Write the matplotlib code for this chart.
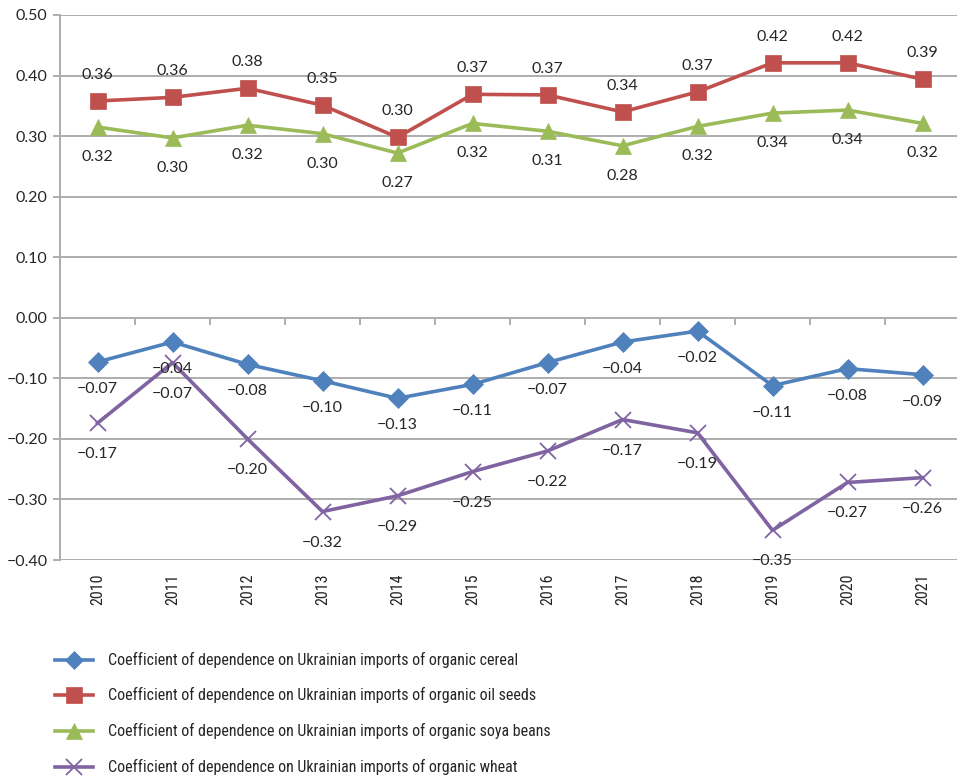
import matplotlib
matplotlib.use("Agg")
import matplotlib.pyplot as plt
from matplotlib import font_manager as fm
from matplotlib.lines import Line2D

plt.rcParams['font.family'] = ['Lato', 'DejaVu Sans']

years = ['2010', '2011', '2012', '2013', '2014', '2015',
         '2016', '2017', '2018', '2019', '2020', '2021']

cereal = [-0.073, -0.040, -0.077, -0.104, -0.133, -0.110,
          -0.074, -0.040, -0.022, -0.112, -0.084, -0.094]
oil_seeds = [0.358, 0.364, 0.379, 0.351, 0.298, 0.369,
             0.368, 0.340, 0.373, 0.421, 0.421, 0.394]
soya_beans = [0.315, 0.297, 0.318, 0.304, 0.272, 0.321,
              0.308, 0.284, 0.316, 0.338, 0.343, 0.321]
wheat = [-0.174, -0.074, -0.200, -0.320, -0.294, -0.254,
         -0.220, -0.168, -0.190, -0.351, -0.272, -0.264]

series_names = [
    'Coefficient of dependence on Ukrainian imports of organic cereal',
    'Coefficient of dependence on Ukrainian imports of organic oil seeds',
    'Coefficient of dependence on Ukrainian imports of organic soya beans',
    'Coefficient of dependence on Ukrainian imports of organic wheat',
]


def condensed_font():
    """Return a regular-weight condensed sans face if one is installed."""
    prefs = ['Roboto Condensed', 'Open Sans Condensed', 'Noto Sans Condensed',
             'Liberation Sans Narrow', 'Arial Narrow', 'Noto Sans',
             'Open Sans', 'Roboto', 'DejaVu Sans']
    for name in prefs:
        for f in fm.fontManager.ttflist:
            if f.name != name or f.style != 'normal':
                continue
            if f.weight not in (400, 'normal', 'regular'):
                continue
            fn = f.fname.lower()
            if 'mono' in fn or 'serif' in fn or 'italic' in fn:
                continue
            narrow = ('condensed' in fn or 'narrow' in fn
                      or f.stretch in ('condensed', 'semi-condensed'))
            if narrow and 'extra' not in fn and 'ultra' not in fn \
                    and 'semi' not in fn:
                return fm.FontProperties(fname=f.fname)
    return fm.FontProperties(family=['Lato', 'DejaVu Sans'])


W, H = 957, 780
fig = plt.figure(figsize=(W / 100, H / 100), dpi=100)
renderer = fig.canvas.get_renderer()
ax_left, ax_right, ax_top, ax_bottom = 60, 957, 15, 560
ax = fig.add_axes([ax_left / W, 1 - ax_bottom / H,
                   (ax_right - ax_left) / W, (ax_bottom - ax_top) / H])

base_fp = condensed_font()


def fitted_size(text, target_px, size0=12.0):
    probe = fig.text(0, 0, text, fontproperties=base_fp, fontsize=size0)
    w = probe.get_window_extent(renderer).width
    probe.remove()
    return size0 * target_px / w


legend_size = min(fitted_size(series_names[0], 412), 14)
year_size = 11.5

step_px = 75.0
x = list(range(len(years)))
ax.set_xlim(-0.5, -0.5 + (ax_right - ax_left) / step_px)
ax.set_ylim(-0.40, 0.50)

grid_color = '#ADADAD'
yticks = [round(-0.4 + 0.1 * i, 2) for i in range(10)]
for yv in yticks:
    ax.axhline(yv, color=grid_color, lw=1.4, zorder=1)

# category separator ticks hanging from the zero line
for b in range(len(years) - 1):
    ax.plot([b + 0.5, b + 0.5], [0, -0.011], color=grid_color, lw=1.4,
            zorder=1, clip_on=False)

ax.set_yticks(yticks)
ax.set_yticklabels([f'{v:.2f}'.replace('-', '\u2212') for v in yticks])
ax.set_xticks(x)
ax.set_xticklabels(years, rotation=90)
for lab in ax.get_xticklabels():
    lab.set_fontproperties(base_fp)
    lab.set_fontsize(year_size)
ax.tick_params(axis='y', length=5, width=1.4, color=grid_color,
               labelsize=11.5, labelcolor='#262626', pad=4)
ax.tick_params(axis='x', length=0, labelcolor='#262626', pad=10)

for s in ['top', 'right', 'bottom']:
    ax.spines[s].set_visible(False)
ax.spines['left'].set_color(grid_color)
ax.spines['left'].set_linewidth(1.4)

styles = [
    (cereal, '#4F81BD', 'D', 10, -27),
    (oil_seeds, '#C0504D', 's', 11.5, 26),
    (soya_beans, '#9BBB59', '^', 12, -30),
    (wheat, '#8064A2', 'x', 12, -31),
]

legend_rows = [660, 695, 731, 767]
for (vals, color, marker, ms, off), name, row in zip(styles, series_names,
                                                      legend_rows):
    mew = 1.3 if marker == 'x' else 0.5
    ax.plot(x, vals, color=color, lw=2.6, marker=marker, markersize=ms,
            markeredgecolor=color, markerfacecolor=color,
            markeredgewidth=mew, zorder=3, clip_on=False)
    for xi, v in zip(x, vals):
        txt = f'{v:.2f}'.replace('-', '\u2212')
        ax.annotate(txt, (xi, v), xytext=(0, off * 0.72),
                    textcoords='offset points', ha='center', va='center',
                    fontsize=11.5, color='#262626', zorder=4)

    # legend entry: line sample, marker and label
    yf = 1 - row / H
    fig.add_artist(Line2D([55 / W, 93 / W], [yf, yf], color=color, lw=2.6))
    fig.add_artist(Line2D([74 / W], [yf], color=color, marker=marker,
                          markersize=ms * 0.95, markeredgecolor=color,
                          markerfacecolor=color, markeredgewidth=mew))
    fig.text(108 / W, yf, name, fontproperties=base_fp, fontsize=legend_size,
             color='#262626', ha='left', va='center')

fig.savefig('out.png', dpi=100)
